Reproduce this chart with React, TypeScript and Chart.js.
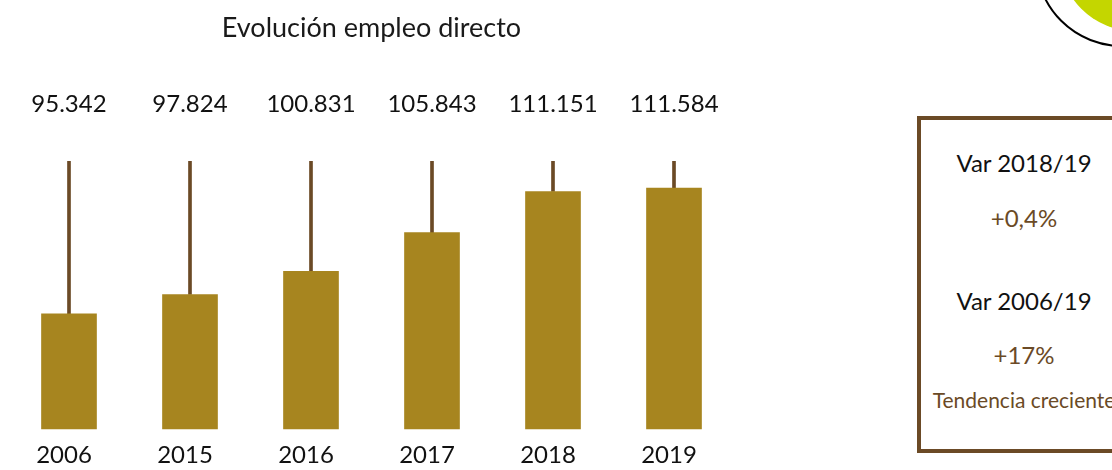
import React, { useEffect, useRef } from "react";
import { Chart, registerables } from "chart.js";

Chart.register(...registerables);

const categories = ["2006", "2015", "2016", "2017", "2018", "2019"];
const employment = [95342, 97824, 100831, 105843, 111151, 111584];
const axisMin = 80400;
const axisMax = 115100;
const chartTitle = "Evolución empleo directo";
const sideTexts = ["Var 2018/19", "+0,4%", "Var 2006/19", "+17%", "Tendencia creciente"];

const FONT = "Lato, 'Open Sans', sans-serif";
const BAR_COLOR = "#a7851f";
const BROWN = "#6b4a26";

const fmt = (v: number) => String(v).replace(/\B(?=(\d{3})+(?!\d))/g, ".");

const valueLabelPlugin = {
  id: "valueLabels",
  afterDatasetsDraw(chart: any) {
    const meta = chart.getDatasetMeta(0);
    const ctx = chart.ctx;
    ctx.save();
    ctx.font = `24px ${FONT}`;
    ctx.fillStyle = "#111";
    ctx.textAlign = "center";
    ctx.textBaseline = "middle";
    meta.data.forEach((bar: any, i: number) => {
      const v = chart.data.datasets[0].data[i] as number;
      ctx.fillText(fmt(v), bar.x, chart.chartArea.top - 57);
    });
    ctx.restore();
  },
};

export default function App() {
  const ref = useRef<HTMLCanvasElement | null>(null);
  useEffect(() => {
    document.body.style.margin = "0";
    if (!ref.current) return;
    const chart = new Chart(ref.current, {
      type: "bar",
      data: {
        labels: categories,
        datasets: [
          {
            data: employment,
            backgroundColor: BAR_COLOR,
            barThickness: 55,
            grouped: false,
            order: 1,
          } as any,
          {
            data: employment.map((v) => [v, axisMax]),
            backgroundColor: BROWN,
            barThickness: 3,
            grouped: false,
            order: 2,
          } as any,
        ],
      },
      options: {
        animation: false,
        responsive: false,
        maintainAspectRatio: false,
        layout: { padding: { left: 8.5, right: 8.5, top: 0, bottom: 1 } },
        plugins: {
          legend: { display: false },
          tooltip: { enabled: false },
          title: {
            display: true,
            text: chartTitle,
            color: "#1a1a1a",
            font: { family: FONT, size: 27, weight: "normal" },
            padding: { top: 11.8, bottom: 116.8 },
          },
        },
        scales: {
          x: {
            grid: { display: false, drawTicks: false },
            border: { display: false },
            ticks: { color: "#111", font: { family: FONT, size: 24 }, padding: 12, labelOffset: -5 },
          },
          y: {
            display: false,
            min: axisMin,
            max: axisMax,
          },
        },
      },
      plugins: [valueLabelPlugin],
    });
    return () => chart.destroy();
  }, []);

  const rowY = [163, 218, 301, 355, 400];
  return (
    <div
      style={{
        position: "fixed",
        left: 0,
        top: 0,
        width: 1112,
        height: 470,
        overflow: "hidden",
        background: "#fff",
        fontFamily: FONT,
      }}
    >
      <canvas ref={ref} width={743} height={483} style={{ position: "absolute", left: 0, top: 0 }} />
      <div
        style={{
          position: "absolute",
          left: 917,
          top: 116,
          width: 214,
          height: 337,
          boxSizing: "border-box",
          border: `4px solid ${BROWN}`,
        }}
      />
      {sideTexts.map((t, i) => (
        <div
          key={i}
          style={{
            position: "absolute",
            left: 924,
            width: 200,
            top: rowY[i] - 15,
            height: 30,
            lineHeight: "30px",
            textAlign: "center",
            whiteSpace: "nowrap",
            fontSize: i === 4 ? 21 : 24,
            color: i === 0 || i === 2 ? "#111" : BROWN,
          }}
        >
          {t}
        </div>
      ))}
      <div
        style={{
          position: "absolute",
          left: 1122 - 87,
          top: -40 - 87,
          width: 174,
          height: 174,
          borderRadius: "50%",
          border: "2px solid #000",
          boxSizing: "border-box",
        }}
      />
      <div
        style={{
          position: "absolute",
          left: 1135 - 76,
          top: -45 - 76,
          width: 152,
          height: 152,
          borderRadius: "50%",
          background: "#c4d600",
        }}
      />
    </div>
  );
}
